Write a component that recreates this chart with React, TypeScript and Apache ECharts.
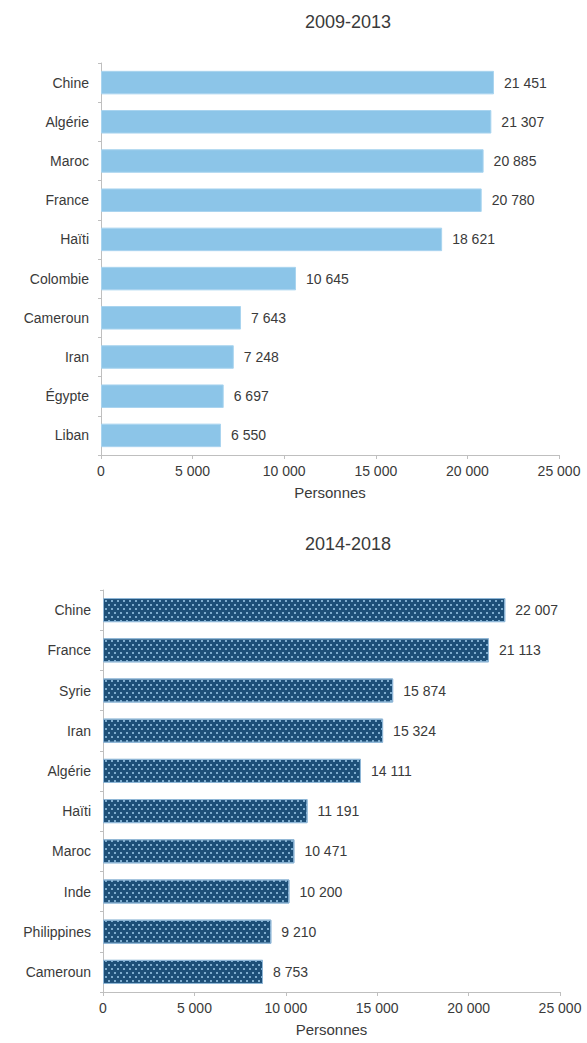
import React, { useEffect, useRef } from "react";
import * as echarts from "echarts";

const titles = ["2009-2013", "2014-2018"];
const categories1 = ["Chine", "Algérie", "Maroc", "France", "Haïti", "Colombie", "Cameroun", "Iran", "Égypte", "Liban"];
const values1 = [21451, 21307, 20885, 20780, 18621, 10645, 7643, 7248, 6697, 6550];
const categories2 = ["Chine", "France", "Syrie", "Iran", "Algérie", "Haïti", "Maroc", "Inde", "Philippines", "Cameroun"];
const values2 = [22007, 21113, 15874, 15324, 14111, 11191, 10471, 10200, 9210, 8753];
const axisName = "Personnes";
const xMin = 0;
const xMax = 25000;
const xStep = 5000;

const fmt = (n: number) => String(n).replace(/\B(?=(\d{3})+(?!\d))/g, " ");

const FONT = "'Liberation Sans', Arial, sans-serif";
const TXT = "#3a3a3a";
const AX = "#bfbfbf";

export default function App() {
  const ref = useRef<HTMLDivElement>(null);
  useEffect(() => {
    document.body.style.margin = "0";
    if (!ref.current) return;
    const chart = echarts.init(ref.current, null, { renderer: "svg" });
    const xAxisBase = (gridIndex: number) => ({
      type: "value" as const,
      gridIndex,
      min: xMin,
      max: xMax,
      interval: xStep,
      name: axisName,
      nameLocation: "middle" as const,
      nameGap: 30,
      nameTextStyle: { color: TXT, fontSize: 15, fontFamily: FONT },
      axisLine: { show: true, lineStyle: { color: AX, width: 1 } },
      axisTick: { show: true, length: 4, lineStyle: { color: AX } },
      splitLine: { show: false },
      axisLabel: { color: TXT, fontSize: 14, fontFamily: FONT, margin: 9, formatter: (v: number) => fmt(v) },
    });
    const yAxisBase = (gridIndex: number, data: string[]) => ({
      type: "category" as const,
      gridIndex,
      data,
      inverse: true,
      axisLine: { show: true, lineStyle: { color: AX, width: 1 } },
      axisTick: { show: true, length: 3, lineStyle: { color: AX } },
      axisLabel: { color: TXT, fontSize: 14, fontFamily: FONT, margin: 12 },
    });
    const labelCfg = {
      show: true,
      position: "right" as const,
      distance: 10,
      color: TXT,
      fontSize: 14,
      fontFamily: FONT,
      formatter: (p: any) => fmt(p.value),
    };
    chart.setOption({
      animation: false,
      title: [
        { text: titles[0], left: 343, top: 8, textAlign: "center", textStyle: { color: TXT, fontSize: 18, fontWeight: "normal", fontFamily: FONT } },
        { text: titles[1], left: 343, top: 530, textAlign: "center", textStyle: { color: TXT, fontSize: 18, fontWeight: "normal", fontFamily: FONT } },
      ],
      grid: [
        { left: 101, right: 28, top: 63, height: 392 },
        { left: 103, right: 27, top: 590, height: 402 },
      ],
      xAxis: [xAxisBase(0), xAxisBase(1)],
      yAxis: [yAxisBase(0, categories1), yAxisBase(1, categories2)],
      series: [
        {
          type: "bar",
          xAxisIndex: 0,
          yAxisIndex: 0,
          data: values1,
          barCategoryGap: "40%",
          itemStyle: { color: "#8cc5e8", borderColor: "#a9d4ef", borderWidth: 1 },
          label: labelCfg,
        },
        {
          type: "bar",
          xAxisIndex: 1,
          yAxisIndex: 1,
          data: values2,
          barCategoryGap: "40%",
          itemStyle: {
            color: "#1d4f78",
            borderColor: "#8fb6d6",
            borderWidth: 1,
            decal: {
              symbol: "rect",
              symbolSize: 1,
              color: "rgba(150,195,228,0.8)",
              dashArrayX: [[2, 4], [0, 3, 2, 1]],
              dashArrayY: [2, 2],
              rotation: 0,
            },
          },
          label: labelCfg,
        },
      ],
    });
    return () => chart.dispose();
  }, []);
  return <div ref={ref} style={{ width: 587, height: 1043 }} />;
}
